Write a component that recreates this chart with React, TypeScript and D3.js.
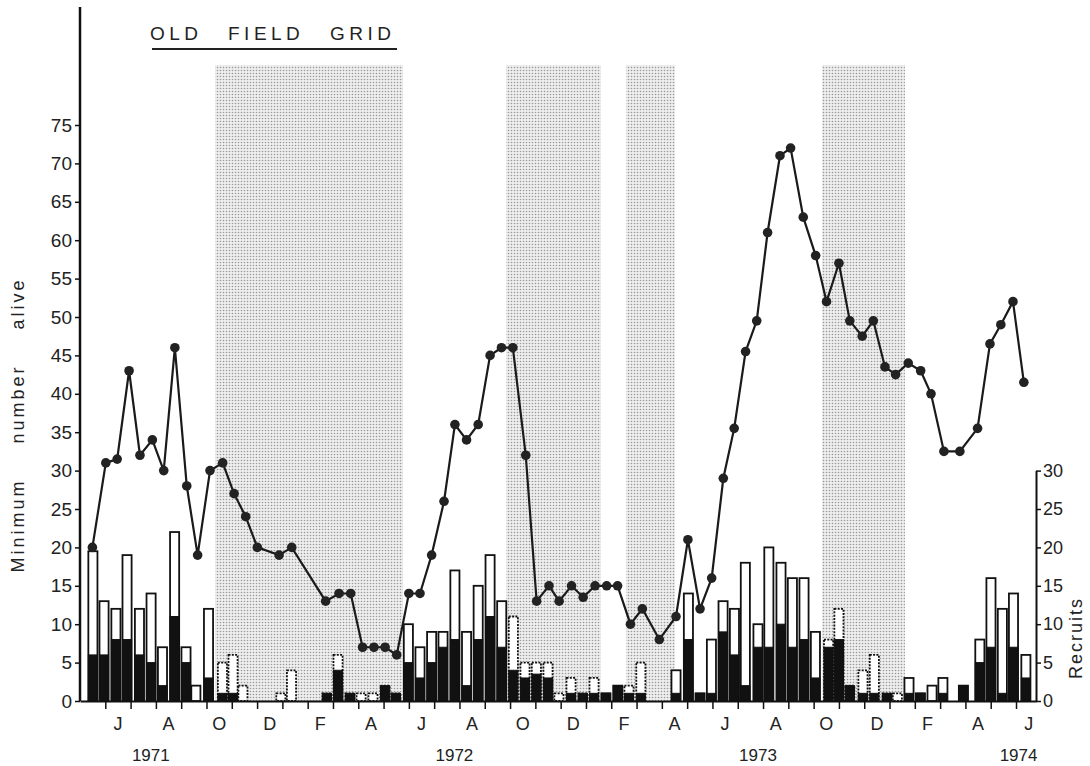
import React, { useEffect, useRef } from "react";
import * as d3 from "d3";

// time axis: months counted from 1 May 1971
const popMonths = [
  0.49, 1.02, 1.47, 1.94, 2.37, 2.86, 3.31, 3.75, 4.22, 4.65, 5.14, 5.64, 6.09, 6.55, 7.01, 7.87, 8.37,
  9.71, 10.24, 10.7, 11.17, 11.62, 12.06, 12.52, 13.0, 13.44, 13.9, 14.39, 14.82, 15.28, 15.74, 16.21,
  16.66, 17.11, 17.62, 18.05, 18.54, 18.94, 19.43, 19.89, 20.36, 20.82, 21.25, 21.76, 22.23, 22.9, 23.56,
  24.03, 24.51, 24.97, 25.43, 25.86, 26.31, 26.75, 27.18, 27.67, 28.09, 28.59, 29.08, 29.51, 30.0, 30.43,
  30.92, 31.36, 31.82, 32.24, 32.74, 33.23, 33.64, 34.15, 34.78, 35.48, 35.97, 36.4, 36.88, 37.31,
];
const popAlive = [
  20, 31, 31.5, 43, 32, 34, 30, 46, 28, 19, 30, 31, 27, 24, 20, 19, 20,
  13, 14, 14, 7, 7, 7, 6, 14, 14, 19, 26, 36, 34, 36, 45,
  46, 46, 32, 13, 15, 13, 15, 13.5, 15, 15, 15, 10, 12, 8, 11,
  21, 12, 16, 29, 35.5, 45.5, 49.5, 61, 71, 72, 63, 58, 52, 57, 49.5,
  47.5, 49.5, 43.5, 42.5, 44, 43, 40, 32.5, 32.5, 35.5, 46.5, 49, 52, 41.5,
];

const barMonths = [
  0.51, 0.95, 1.42, 1.86, 2.35, 2.81, 3.26, 3.74, 4.19, 4.58, 5.08, 5.63, 6.05, 6.44, 7.94, 8.36,
  9.76, 10.2, 10.67, 11.11, 11.58, 12.06, 12.49, 12.98, 13.44, 13.9, 14.35, 14.82, 15.28, 15.74, 16.21,
  16.67, 17.13, 17.59, 18.04, 18.5, 18.93, 19.41, 19.88, 20.32, 20.79, 21.26, 21.7, 22.17, 23.56,
  24.05, 24.51, 24.96, 25.42, 25.87, 26.3, 26.8, 27.23, 27.71, 28.16, 28.62, 29.07, 29.59, 30.0,
  30.43, 30.95, 31.4, 31.9, 32.31, 32.77, 33.22, 33.68, 34.11, 34.92, 35.57, 36.01, 36.46, 36.9, 37.39,
];
const recruitsTotal = [
  19.5, 13, 12, 19, 12, 14, 7, 22, 7, 2, 12, 5, 6, 2, 1, 4,
  1, 6, 1, 1, 1, 2, 1, 10, 7, 9, 9, 17, 9, 15, 19,
  13, 11, 5, 5, 5, 1, 3, 1, 3, 1, 2, 2, 5, 4,
  14, 1, 8, 13, 12, 18, 10, 20, 18, 16, 16, 9, 8, 12,
  2, 4, 6, 1, 1, 3, 1, 2, 3, 2, 8, 16, 12, 14, 6,
];
const recruitsSolid = [
  6, 6, 8, 8, 6, 5, 2, 11, 5, 0, 3, 1, 1, 0, 0, 0,
  1, 4, 1, 0, 0, 2, 1, 5, 3, 5, 7, 8, 2, 8, 11,
  7, 4, 3, 3.5, 3, 0, 1, 1, 1, 1, 2, 1, 1, 1,
  8, 1, 1, 9, 6, 2, 7, 7, 10, 7, 8, 3, 7, 8,
  2, 1, 1, 1, 0, 1, 1, 0, 1, 2, 5, 7, 1, 7, 3,
];

// shaded periods (months from 1 May 1971)
const shadeStart = [5.34, 16.84, 21.58, 29.33];
const shadeEnd = [12.77, 20.59, 23.52, 32.61];

const monthLetters = ["J", "A", "O", "D", "F", "A", "J", "A", "O", "D", "F", "A", "J", "A", "O", "D", "F", "A", "J"];
const monthLetterPos = d3.range(1.5, 38, 2);
const yearLabels = ["1971", "1972", "1973", "1974"];
const yearPos = [2.8, 14.8, 26.8, 37.1];

const aliveTicks = d3.range(0, 80, 5);
const recruitTicks = d3.range(0, 35, 5);

const FONT = "'Liberation Sans', Arial, sans-serif";

export default function App() {
  const ref = useRef<SVGSVGElement>(null);

  useEffect(() => {
    const svg = d3.select(ref.current);
    svg.selectAll("*").remove();

    const x = d3.scaleLinear().domain([0, 37.79]).range([80, 1036]);
    const y = d3.scaleLinear().domain([0, 75]).range([701, 125]);
    const yR = d3.scaleLinear().domain([0, 30]).range([701, y(30)]);

    // stipple pattern for the shaded periods
    const defs = svg.append("defs");
    const pat = defs
      .append("pattern")
      .attr("id", "stipple")
      .attr("width", 3)
      .attr("height", 3)
      .attr("patternUnits", "userSpaceOnUse");
    pat.append("rect").attr("width", 3).attr("height", 3).attr("fill", "#eeeeee");
    pat.append("circle").attr("cx", 1.5).attr("cy", 1.5).attr("r", 0.8).attr("fill", "#999");

    svg
      .append("g")
      .selectAll("rect")
      .data(shadeStart.map((s, i) => [s, shadeEnd[i]]))
      .enter()
      .append("rect")
      .attr("x", (d) => x(d[0]))
      .attr("y", 65)
      .attr("width", (d) => x(d[1]) - x(d[0]))
      .attr("height", (d) => y(0) - 65)
      .attr("fill", "url(#stipple)");

    // recruits bars
    const bars = barMonths.map((t, i) => ({
      t,
      total: recruitsTotal[i],
      solid: recruitsSolid[i],
      shaded: shadeStart.some((s, k) => t > s && t < shadeEnd[k]),
    }));
    const half = 0.18;
    const gb = svg.append("g");
    gb.selectAll("rect.open")
      .data(bars)
      .enter()
      .append("rect")
      .attr("class", "open")
      .attr("x", (d) => x(d.t - half))
      .attr("width", (d) => x(d.t + half) - x(d.t - half))
      .attr("y", (d) => yR(d.total))
      .attr("height", (d) => yR(0) - yR(d.total))
      .attr("fill", "#fff")
      .attr("stroke", "#111")
      .attr("stroke-width", 1.8)
      .attr("stroke-dasharray", (d) => (d.shaded ? "2,1.3" : null));
    gb.selectAll("rect.solid")
      .data(bars.filter((d) => d.solid > 0))
      .enter()
      .append("rect")
      .attr("class", "solid")
      .attr("x", (d) => x(d.t - half))
      .attr("width", (d) => x(d.t + half) - x(d.t - half))
      .attr("y", (d) => yR(d.solid))
      .attr("height", (d) => yR(0) - yR(d.solid))
      .attr("fill", "#111")
      .attr("stroke", "#111")
      .attr("stroke-width", 1);

    // minimum number alive
    const pts = popMonths.map((t, i) => [t, popAlive[i]] as [number, number]);
    const line = d3
      .line<[number, number]>()
      .x((d) => x(d[0]))
      .y((d) => y(d[1]));
    svg
      .append("path")
      .attr("d", line(pts))
      .attr("fill", "none")
      .attr("stroke", "#1a1a1a")
      .attr("stroke-width", 2.2);
    svg
      .append("g")
      .selectAll("circle")
      .data(pts)
      .enter()
      .append("circle")
      .attr("cx", (d) => x(d[0]))
      .attr("cy", (d) => y(d[1]))
      .attr("r", 4.8)
      .attr("fill", "#222");

    // left axis
    const gl = svg
      .append("g")
      .attr("transform", "translate(80,0)")
      .call(d3.axisLeft(y).tickValues(aliveTicks).tickSize(5).tickSizeOuter(0).tickPadding(3));
    gl.select(".domain").remove();
    gl.selectAll("line").attr("stroke", "#111").attr("stroke-width", 1.5);
    gl.selectAll("text").attr("font-family", FONT).attr("font-size", 19).attr("fill", "#222");
    svg.append("line").attr("x1", 80).attr("x2", 80).attr("y1", 7).attr("y2", y(0)).attr("stroke", "#111").attr("stroke-width", 2.5);

    // right axis
    const gr = svg
      .append("g")
      .attr("transform", "translate(1036,0)")
      .call(d3.axisRight(yR).tickValues(recruitTicks).tickSize(5).tickSizeOuter(0).tickPadding(2));
    gr.select(".domain").attr("stroke", "#111").attr("stroke-width", 2);
    gr.selectAll("line").attr("stroke", "#111").attr("stroke-width", 1.5);
    gr.selectAll("text").attr("font-family", FONT).attr("font-size", 18).attr("fill", "#222");

    // bottom axis
    const gx = svg
      .append("g")
      .attr("transform", `translate(0,${y(0)})`)
      .call(d3.axisBottom(x).tickValues(d3.range(1, 38)).tickSize(8).tickSizeOuter(0).tickFormat(() => ""));
    gx.select(".domain").attr("stroke", "#111").attr("stroke-width", 2);
    gx.selectAll("line").attr("stroke", "#111").attr("stroke-width", 1.5);

    svg
      .append("g")
      .selectAll("text")
      .data(monthLetters)
      .enter()
      .append("text")
      .attr("x", (d, i) => x(monthLetterPos[i]))
      .attr("y", 730)
      .attr("text-anchor", "middle")
      .attr("font-family", FONT)
      .attr("font-size", 18)
      .attr("fill", "#222")
      .text((d) => d);

    svg
      .append("g")
      .selectAll("text")
      .data(yearLabels)
      .enter()
      .append("text")
      .attr("x", (d, i) => x(yearPos[i]))
      .attr("y", 761)
      .attr("text-anchor", "middle")
      .attr("font-family", FONT)
      .attr("font-size", 17)
      .attr("fill", "#222")
      .text((d) => d);

    // axis titles
    svg
      .append("text")
      .attr("transform", "translate(24,425) rotate(-90)")
      .attr("text-anchor", "middle")
      .attr("font-family", FONT)
      .attr("font-size", 18)
      .attr("letter-spacing", 3)
      .attr("word-spacing", 27)
      .attr("fill", "#222")
      .text("Minimum number alive");
    svg
      .append("text")
      .attr("transform", "translate(1082,638) rotate(-90)")
      .attr("text-anchor", "middle")
      .attr("font-family", FONT)
      .attr("font-size", 18)
      .attr("letter-spacing", 2)
      .attr("fill", "#222")
      .text("Recruits");

    // title
    const title = [
      ["OLD", 150],
      ["FIELD", 228],
      ["GRID", 330],
    ] as [string, number][];
    svg
      .append("g")
      .selectAll("text")
      .data(title)
      .enter()
      .append("text")
      .attr("x", (d) => d[1])
      .attr("y", 40)
      .attr("font-family", FONT)
      .attr("font-size", 19)
      .attr("letter-spacing", 4.5)
      .attr("fill", "#222")
      .text((d) => d[0]);
    svg.append("line").attr("x1", 152).attr("x2", 397).attr("y1", 49).attr("y2", 49).attr("stroke", "#222").attr("stroke-width", 2);
  }, []);

  return (
    <svg
      ref={ref}
      width={1090}
      height={766}
      style={{ position: "absolute", left: 0, top: 0, background: "#fff" }}
    />
  );
}
